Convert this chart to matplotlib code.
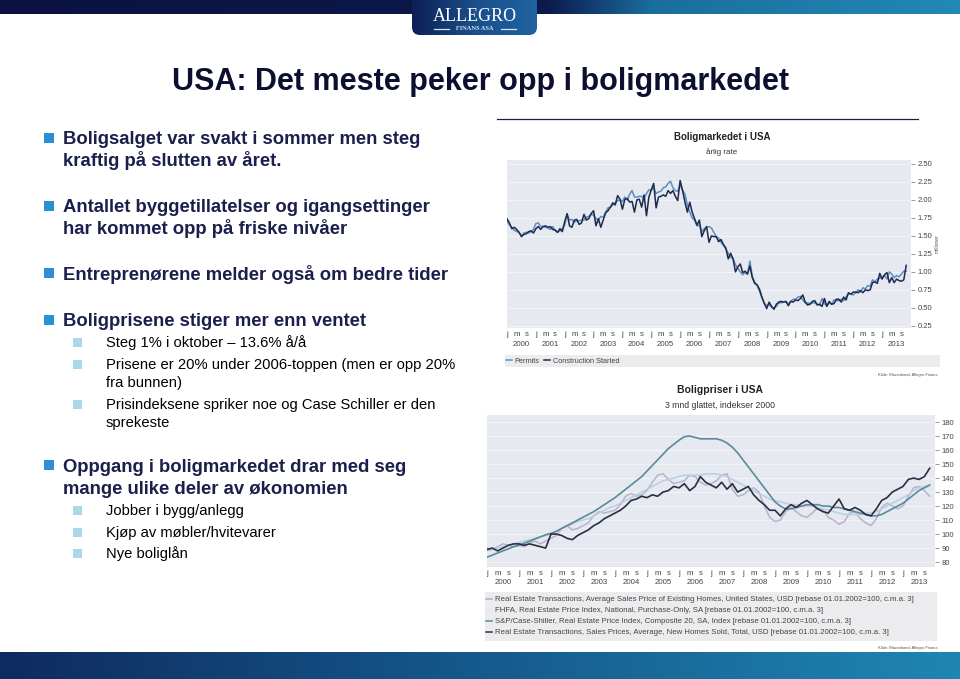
import numpy as np
import pandas as pd
import matplotlib
matplotlib.use("Agg")
import matplotlib.pyplot as plt
from matplotlib.patches import Rectangle, FancyBboxPatch
from matplotlib.lines import Line2D
from matplotlib.colors import LinearSegmentedColormap

plt.rcParams['font.family'] = ['Liberation Sans', 'DejaVu Sans']

# ---------------- slide text
title = "USA: Det meste peker opp i boligmarkedet"
main_points = [
    ["Boligsalget var svakt i sommer men steg", "kraftig på slutten av året."],
    ["Antallet byggetillatelser og igangsettinger", "har kommet opp på friske nivåer"],
    ["Entreprenørene melder også om bedre tider"],
    ["Boligprisene stiger mer enn ventet"],
    ["Oppgang i boligmarkedet drar med seg", "mange ulike deler av økonomien"],
]
sub_points = [
    ["Steg 1% i oktober – 13.6% å/å"],
    ["Prisene er 20% under 2006-toppen (men er opp 20%", "fra bunnen)"],
    ["Prisindeksene spriker noe og Case Schiller er den", "sprekeste"],
    ["Jobber i bygg/anlegg"],
    ["Kjøp av møbler/hvitevarer"],
    ["Nye boliglån"],
]

# ---------------- chart 1: Boligmarkedet i USA (mill., årlig rate), monthly 2000-01 .. 2013-11
permits = [
    1.71, 1.65, 1.62, 1.58, 1.56, 1.55, 1.50, 1.54, 1.55, 1.54, 1.56, 1.59,
    1.67, 1.68, 1.63, 1.63, 1.62, 1.61, 1.59, 1.63, 1.58, 1.55, 1.57, 1.60,
    1.65, 1.80, 1.72, 1.73, 1.69, 1.71, 1.71, 1.72, 1.72, 1.76, 1.77, 1.80,
    1.79, 1.74, 1.72, 1.77, 1.76, 1.83, 1.89, 1.90, 1.93, 1.96, 1.99, 2.00,
    1.98, 2.04, 2.00, 2.08, 2.13, 2.04, 2.04, 2.05, 2.05, 2.02, 2.09, 2.14,
    2.14, 2.17, 2.09, 2.11, 2.12, 2.17, 2.18, 2.23, 2.26, 2.17, 2.13, 2.12,
    2.21, 2.14, 2.08, 1.93, 1.83, 1.75, 1.72, 1.64, 1.65, 1.56, 1.60, 1.62,
    1.63, 1.61, 1.55, 1.49, 1.47, 1.41, 1.37, 1.32, 1.26, 1.20, 1.19, 1.10,
    1.05, 1.00, 0.96, 0.99, 0.97, 1.15, 0.94, 0.86, 0.81, 0.73, 0.64, 0.56,
    0.53, 0.55, 0.51, 0.50, 0.52, 0.57, 0.57, 0.58, 0.58, 0.56, 0.59, 0.62,
    0.62, 0.65, 0.66, 0.61, 0.57, 0.57, 0.56, 0.57, 0.57, 0.55, 0.54, 0.63,
    0.56, 0.53, 0.57, 0.55, 0.61, 0.60, 0.60, 0.62, 0.60, 0.65, 0.70, 0.69,
    0.68, 0.71, 0.75, 0.72, 0.78, 0.76, 0.81, 0.80, 0.89, 0.86, 0.90, 0.91,
    0.93, 0.95, 0.90, 1.00, 0.97, 0.92, 0.95, 0.93, 0.97, 1.01, 1.01,
]
starts = [
    1.74, 1.68, 1.60, 1.62, 1.59, 1.55, 1.49, 1.52, 1.53, 1.56, 1.57, 1.54,
    1.60, 1.63, 1.59, 1.63, 1.64, 1.62, 1.63, 1.59, 1.58, 1.55, 1.60, 1.56,
    1.70, 1.81, 1.64, 1.62, 1.72, 1.73, 1.66, 1.68, 1.80, 1.72, 1.74, 1.81,
    1.85, 1.64, 1.74, 1.62, 1.72, 1.82, 1.85, 1.90, 1.96, 1.93, 2.06, 2.01,
    1.87, 2.01, 2.02, 1.97, 1.98, 1.83, 2.00, 2.01, 1.90, 2.07, 1.78, 2.04,
    2.14, 2.23, 1.89, 2.04, 2.05, 2.07, 2.05, 2.13, 2.09, 2.13, 2.05, 1.99,
    2.27, 2.13, 1.97, 1.83, 1.97, 1.83, 1.74, 1.65, 1.72, 1.49, 1.57, 1.63,
    1.41, 1.50, 1.49, 1.49, 1.42, 1.45, 1.38, 1.33, 1.18, 1.26, 1.18, 1.00,
    1.07, 1.11, 0.99, 1.01, 0.97, 1.08, 0.92, 0.84, 0.82, 0.76, 0.65, 0.56,
    0.49, 0.58, 0.52, 0.48, 0.55, 0.58, 0.59, 0.58, 0.59, 0.53, 0.59, 0.58,
    0.61, 0.60, 0.63, 0.68, 0.58, 0.54, 0.55, 0.59, 0.60, 0.54, 0.55, 0.52,
    0.63, 0.52, 0.59, 0.55, 0.56, 0.62, 0.62, 0.58, 0.65, 0.61, 0.71, 0.69,
    0.72, 0.72, 0.71, 0.74, 0.71, 0.75, 0.74, 0.75, 0.85, 0.86, 0.84, 0.98,
    0.90, 0.96, 0.99, 0.85, 0.92, 0.85, 0.90, 0.88, 0.87, 0.89, 1.09,
]
top_ticks = [0.25, 0.50, 0.75, 1.00, 1.25, 1.50, 1.75, 2.00, 2.25, 2.50]

# ---------------- chart 2: Boligpriser i USA (rebase 2002=100), every 2nd month 2000-01 .. 2013-11
existing = [
    90, 89, 91, 93, 92, 91,   92, 91, 94, 95, 93, 95,
    97, 99, 104, 106, 103, 104,   106, 108, 113, 116, 115, 116,
    117, 121, 127, 129, 127, 128,   131, 137, 142, 143, 139, 136,
    137, 138, 142, 141, 137, 135,   136, 138, 142, 143, 132, 127,
    128, 131, 133, 130, 120, 112,   109, 110, 116, 119, 116, 113,
    112, 115, 119, 117, 112, 110,   107, 109, 115, 116, 111, 108,
    106, 111, 119, 122, 120, 118,   120, 127, 133, 134, 131, 127,
]
fhfa = [
    88, 89, 90, 91, 92, 93,   94, 95, 96, 97, 98, 99,
    100, 102, 104, 106, 107, 109,   110, 111, 113, 115, 117, 119,
    120, 122, 124, 126, 128, 130,   132, 134, 136, 138, 139, 140,
    141, 142, 142, 142, 142, 143,   143, 143, 142, 141, 139, 137,
    135, 133, 131, 129, 127, 125,   124, 123, 122, 121, 121, 120,
    120, 120, 119, 118, 117, 116,   115, 114, 114, 114, 114, 115,
    115, 116, 118, 120, 122, 124,   126, 128, 131, 133, 134, 135,
]
case_shiller = [
    83.5, 85, 86.5, 88, 89.5, 91,   92, 93.5, 95, 96.5, 98, 99.5,
    100.5, 102, 104, 106, 108, 110,   112, 114, 116, 118.5, 121, 123.5,
    126, 129, 132, 135, 138, 141,   145, 149, 153, 157, 161, 164,
    167, 169.5, 170, 169, 168, 168,   168, 168, 167, 165, 162, 158,
    153, 148, 143, 138, 133, 128,   123, 120, 118, 118, 119, 120,
    121, 121, 121, 120, 120, 119,   119, 118, 117, 116, 115, 114,
    113, 113, 114, 116, 118, 120,   122, 125, 128, 131, 133, 135,
]
new_homes = [
    89, 90, 88, 90, 92, 93,   93, 92, 93, 92, 91, 90,
    100, 100, 99, 97, 96, 99,   101, 103, 106, 108, 111, 113,
    115, 117, 120, 124, 125, 127,   126, 128, 127, 130, 131, 134,
    133, 136, 131, 134, 141, 137,   135, 133, 137, 132, 136, 130,
    132, 134, 128, 124, 121, 117,   117, 113, 118, 121, 119, 122,
    124, 121, 118, 116, 115, 120,   125, 118, 117, 119, 117, 114,
    113, 118, 124, 126, 130, 132,   134, 139, 140, 139, 141, 147,
]
bottom_ticks = [80, 90, 100, 110, 120, 130, 140, 150, 160, 170, 180]
legend2 = [
    "Real Estate Transactions, Average Sales Price of Existing Homes, United States, USD [rebase 01.01.2002=100, c.m.a. 3]",
    "FHFA, Real Estate Price Index, National, Purchase-Only, SA [rebase 01.01.2002=100, c.m.a. 3]",
    "S&P/Case-Shiller, Real Estate Price Index, Composite 20, SA, Index [rebase 01.01.2002=100, c.m.a. 3]",
    "Real Estate Transactions, Sales Prices, Average, New Homes Sold, Total, USD [rebase 01.01.2002=100, c.m.a. 3]",
]
years = list(range(2000, 2014))

d1 = pd.date_range("2000-01-01", periods=len(starts), freq="MS")
x1 = d1.year + (d1.month - 1) / 12
d2 = pd.date_range("2000-01-01", periods=len(new_homes), freq="2MS")
x2 = d2.year + (d2.month - 1) / 12

W, H = 960, 679
fig = plt.figure(figsize=(9.6, 6.79), dpi=100)
fig.patch.set_facecolor("white")

# slide layer in pixel coordinates
ax0 = fig.add_axes([0, 0, 1, 1])
ax0.set_xlim(0, W)
ax0.set_ylim(H, 0)
ax0.axis("off")

top_cmap = LinearSegmentedColormap.from_list(
    "top", [(0, "#0b1242"), (0.57, "#0c1a4c"), (0.68, "#1a6e9f"), (1, "#2288b6")])
bot_cmap = LinearSegmentedColormap.from_list(
    "bot", [(0, "#0f2a5e"), (0.5, "#155a8c"), (1, "#1f86b4")])
grad = np.linspace(0, 1, 256).reshape(1, -1)
ax0.imshow(grad, extent=(0, W, 14, 0), cmap=top_cmap, aspect="auto", zorder=1)
ax0.imshow(grad, extent=(0, W, H, 652), cmap=bot_cmap, aspect="auto", zorder=1)

# logo tab
tab = FancyBboxPatch((412, -12), 125, 47, boxstyle="round,pad=0,rounding_size=8",
                     facecolor="none", edgecolor="none", zorder=2)
ax0.add_patch(tab)
logo_cmap = LinearSegmentedColormap.from_list("logo", ["#0e1f55", "#1a4f8a", "#1f63a0"])
im = ax0.imshow(grad, extent=(412, 537, 35, -12), cmap=logo_cmap, aspect="auto", zorder=2)
im.set_clip_path(tab)
ax0.set_xlim(0, W)
ax0.set_ylim(H, 0)
ax0.text(475, 21, "ALLEGRO", family=["Liberation Serif", "DejaVu Serif"], fontsize=13,
         color="white", ha="center", va="baseline", zorder=3)
ax0.text(475, 30.5, "FINANS ASA", family=["Liberation Serif", "DejaVu Serif"], fontsize=4.6,
         fontweight="bold", color="#d8e2f0", ha="center", va="baseline", zorder=3)
ax0.plot([434, 449], [28.5, 28.5], color="#d8e2f0", lw=0.9, zorder=3)
ax0.plot([501, 516], [28.5, 28.5], color="#d8e2f0", lw=0.9, zorder=3)

# title and rule
ax0.text(480, 90, title, fontsize=22, fontweight="bold", color="#0c0f30",
         ha="center", va="baseline")
ax0.plot([497, 918], [118.5, 118.5], color="#1b1f4b", lw=0.9)

# bullets
navy = "#1b1f4b"
main_y = [138, 206, 273, 320, 465]
for lines, y in zip(main_points, main_y):
    ax0.add_patch(Rectangle((44, y - 5), 10, 10, facecolor="#2a8fd3", edgecolor="none"))
    for k, line in enumerate(lines):
        ax0.text(63, y + 6.5 + 22 * k, line, fontsize=13.3, fontweight="bold",
                 color=navy, ha="left", va="baseline")
sub_y = [342, 364, 404, 510, 532, 553]
for lines, y in zip(sub_points, sub_y):
    ax0.add_patch(Rectangle((73, y - 4.5), 9, 9, facecolor="#a7d9e8", edgecolor="none"))
    for k, line in enumerate(lines):
        ax0.text(106, y + 5.3 + 18 * k, line, fontsize=10.6, color="black",
                 ha="left", va="baseline")

# legend bands and source notes
ax0.add_patch(Rectangle((505, 355), 435, 12, facecolor="#ececee", edgecolor="none"))
ax0.add_patch(Rectangle((485, 592), 452, 49, facecolor="#ececee", edgecolor="none"))
ax0.text(938, 375, "Kilde: Macrobond, Allegro Finans", fontsize=3, color="#555555",
         ha="right", va="center")
ax0.text(938, 648, "Kilde: Macrobond, Allegro Finans", fontsize=3, color="#555555",
         ha="right", va="center")

# chart titles
ax0.text(722, 137, "Boligmarkedet i USA", fontsize=7, fontweight="bold", color="#222222",
         ha="center", va="center")
ax0.text(722, 152, "årlig rate", fontsize=5.8, color="#333333", ha="center", va="center")
ax0.text(720, 390, "Boligpriser i USA", fontsize=7.5, fontweight="bold", color="#222222",
         ha="center", va="center")
ax0.text(720, 406, "3 mnd glattet, indekser 2000", fontsize=6.2, color="#333333",
         ha="center", va="center")


def style_axis(ax, ylim, yticks, fmt):
    ax.set_facecolor("#e6e9f0")
    for s in ax.spines.values():
        s.set_visible(False)
    ax.set_xlim(2000, 2014)
    ax.set_ylim(*ylim)
    ax.yaxis.tick_right()
    ax.set_yticks(yticks, [fmt.format(v) for v in yticks])
    ax.grid(axis="y", color="white", lw=0.6, alpha=0.6)
    ax.tick_params(axis="y", length=3, width=0.6, color="#888888", labelsize=5.5,
                   labelcolor="#444444", pad=1.5)
    ax.set_xticks([y + 0.5 for y in years], [str(y) for y in years])
    ax.set_xticks([y + m for y in years for m in (0, 4 / 12, 8 / 12)],
                  ["j", "m", "s"] * len(years), minor=True)
    ax.tick_params(axis="x", which="major", length=0, labelsize=5.7,
                   labelcolor="#444444", pad=9)
    ax.tick_params(axis="x", which="minor", length=0, labelsize=5.7,
                   labelcolor="#444444", pad=2)


# chart 1
ax1 = fig.add_axes([507 / W, 1 - 328 / H, 404 / W, 168 / H])
style_axis(ax1, (0.22, 2.555), top_ticks, "{:.2f}")
ax1.plot(x1, permits, color="#5b8fc2", lw=1.1, label="Permits")
ax1.plot(x1, starts, color="#1f2a4c", lw=1.1, label="Construction Started")
ax1.yaxis.set_label_position("right")
ax1.set_ylabel("millioner", fontsize=3.5, color="#555555", labelpad=2)
ax1.legend(loc="center left", bbox_to_anchor=(506 / W, 1 - 361 / H), bbox_transform=fig.transFigure,
           ncol=2, frameon=False, fontsize=5.3, handlelength=0.8, handletextpad=0.4,
           columnspacing=0.6, labelcolor="#444444", borderpad=0, borderaxespad=0)

# chart 2
ax2 = fig.add_axes([487 / W, 1 - 567 / H, 448 / W, 152 / H])
style_axis(ax2, (76.5, 185), bottom_ticks, "{:d}")
ax2.plot(x2, existing, color="#b9b3ca", lw=1.1)
ax2.plot(x2, fhfa, color="#b8cfe2", lw=1.1)
ax2.plot(x2, case_shiller, color="#5a8a9c", lw=1.2)
ax2.plot(x2, new_homes, color="#2a2e42", lw=1.2)
handles = [Line2D([], [], color=c, lw=1.1) for c in ("#b0aabf", "#e6e7ea", "#5a8a9c", "#2a2e42")]
ax2.legend(handles, legend2, loc="upper left", bbox_to_anchor=(486 / W, 1 - 596 / H),
           bbox_transform=fig.transFigure, frameon=False, fontsize=5.6, handlelength=0.8,
           handletextpad=0.4, labelspacing=0.45, labelcolor="#444444", borderpad=0,
           borderaxespad=0)

fig.savefig("out.png", dpi=100, facecolor="white")
